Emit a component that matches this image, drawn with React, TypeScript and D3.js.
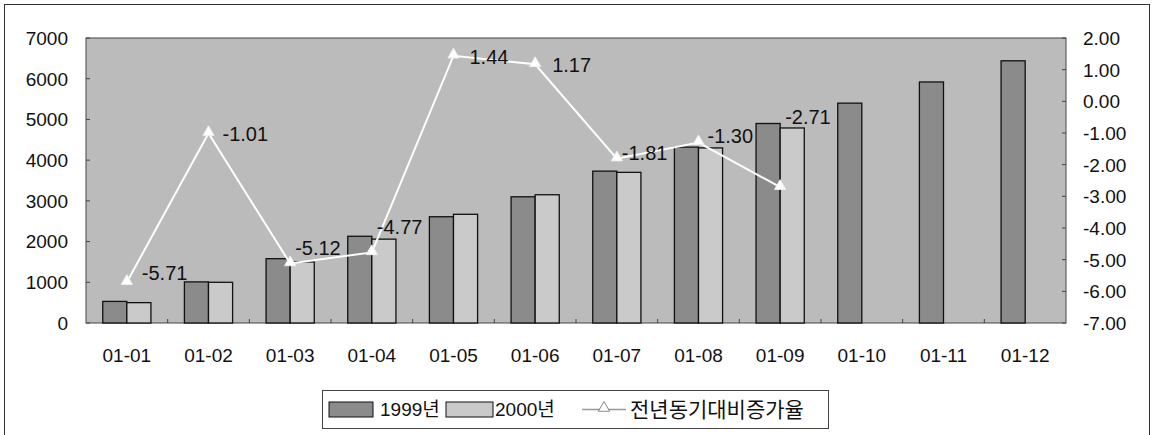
import React from "react";
import * as d3 from "d3";

// monthly values
const months = ["01-01", "01-02", "01-03", "01-04", "01-05", "01-06", "01-07", "01-08", "01-09", "01-10", "01-11", "01-12"];
const values1999 = [530, 1010, 1580, 2130, 2610, 3100, 3730, 4320, 4900, 5400, 5920, 6440];
const values2000 = [500, 1000, 1500, 2060, 2670, 3150, 3700, 4300, 4790, null, null, null];
const growthRate = [-5.71, -1.01, -5.12, -4.77, 1.44, 1.17, -1.81, -1.3, -2.71];

const leftTicks = [0, 1000, 2000, 3000, 4000, 5000, 6000, 7000];
const rightTicks = [2, 1, 0, -1, -2, -3, -4, -5, -6, -7];

// where each data label sits relative to its point
const labelOffsets: [number, number][] = [
  [15, -9], [14, 0], [5, -16], [5, -26], [16, 1], [17, 1], [5, -6], [9, -7], [5, -70],
];

const W = 1158;
const H = 435;
const plot = { left: 86, right: 1066, top: 38, bottom: 323 };
const FONT = "'Liberation Sans', Arial, 'Noto Sans CJK KR', sans-serif";

const BG = "#bbbbbb";
const DARK = "#8b8b8b";
const LIGHT = "#cacaca";

const App: React.FC = () => {
  const x = d3.scaleBand<string>().domain(months).range([plot.left, plot.right]).padding(0);
  const groupW = x.bandwidth() * 0.59;
  const barW = groupW / 2;
  const yL = d3.scaleLinear().domain([0, 7000]).range([plot.bottom, plot.top]);
  const yR = d3.scaleLinear().domain([-7, 2]).range([plot.bottom, plot.top]);
  const cx = (m: string) => (x(m) || 0) + x.bandwidth() / 2;

  const line = d3
    .line<number>()
    .x((_, i) => cx(months[i]))
    .y((d) => yR(d));

  const tri = d3.symbol().type(d3.symbolTriangle).size(55);

  return (
    <svg width={W} height={H} style={{ position: "absolute", left: 0, top: 0 }} fontFamily={FONT}>
      <rect x={0} y={0} width={W} height={H} fill="#fff" />
      <rect x={4.5} y={4.5} width={1145} height={440} fill="none" stroke="#333" strokeWidth={1} />

      <rect x={plot.left} y={plot.top} width={plot.right - plot.left} height={plot.bottom - plot.top} fill={BG} stroke="#444" strokeWidth={1} />

      {months.map((m, i) => {
        const x0 = cx(m) - groupW / 2;
        const v1 = values1999[i];
        const v2 = values2000[i];
        return (
          <g key={m}>
            <rect x={x0} y={yL(v1)} width={barW} height={yL(0) - yL(v1)} fill={DARK} stroke="#111" strokeWidth={1.3} />
            {v2 != null && (
              <rect x={x0 + barW} y={yL(v2)} width={barW} height={yL(0) - yL(v2)} fill={LIGHT} stroke="#111" strokeWidth={1.3} />
            )}
          </g>
        );
      })}

      <path d={line(growthRate) || ""} fill="none" stroke="#fff" strokeWidth={2} />
      {growthRate.map((v, i) => (
        <path key={i} d={tri() || ""} transform={`translate(${cx(months[i])},${yR(v) - 1})`} fill="#fff" stroke="#eee" strokeWidth={1} />
      ))}
      {growthRate.map((v, i) => (
        <text key={i} x={cx(months[i]) + labelOffsets[i][0]} y={yR(v) + labelOffsets[i][1]} dy="0.36em" fontSize={20} fill="#111">
          {v.toFixed(2)}
        </text>
      ))}

      {/* left axis */}
      {leftTicks.map((t) => (
        <g key={t}>
          <line x1={plot.left} x2={plot.left + 4} y1={yL(t)} y2={yL(t)} stroke="#444" />
          <text x={68} y={yL(t)} dy="0.36em" textAnchor="end" fontSize={19} fill="#111">
            {t}
          </text>
        </g>
      ))}

      {/* right axis */}
      {rightTicks.map((t) => (
        <g key={t}>
          <line x1={plot.right - 4} x2={plot.right} y1={yR(t)} y2={yR(t)} stroke="#444" />
          <text x={1083} y={yR(t)} dy="0.36em" textAnchor="start" fontSize={19} fill="#111">
            {t.toFixed(2)}
          </text>
        </g>
      ))}

      {/* category axis */}
      {months.map((m, i) => (
        <g key={m}>
          {i > 0 && <line x1={x(m)} x2={x(m)} y1={plot.bottom} y2={plot.bottom - 4} stroke="#444" />}
          <text x={cx(m)} y={355} dy="0.36em" textAnchor="middle" fontSize={19} fill="#111">
            {m}
          </text>
        </g>
      ))}

      {/* legend */}
      <g>
        <rect x={322.5} y={390.5} width={506} height={38} fill="#fff" stroke="#444" strokeWidth={1} />
        <rect x={329} y={402} width={44} height={15} fill={DARK} stroke="#111" />
        <text x={380} y={409.5} dy="0.36em" fontSize={19} fill="#111">1999년</text>
        <rect x={446} y={402} width={47} height={15} fill={LIGHT} stroke="#111" />
        <text x={495} y={409.5} dy="0.36em" fontSize={19} fill="#111">2000년</text>
        <line x1={582} x2={626} y1={409.5} y2={409.5} stroke="#999" strokeWidth={1.5} />
        <path d={tri() || ""} transform="translate(604,408)" fill="#fff" stroke="#888" strokeWidth={1} />
        <text x={630} y={409.5} dy="0.36em" fontSize={21} fill="#111">
          전년동기대비증가율
        </text>
      </g>
    </svg>
  );
};

export default App;
